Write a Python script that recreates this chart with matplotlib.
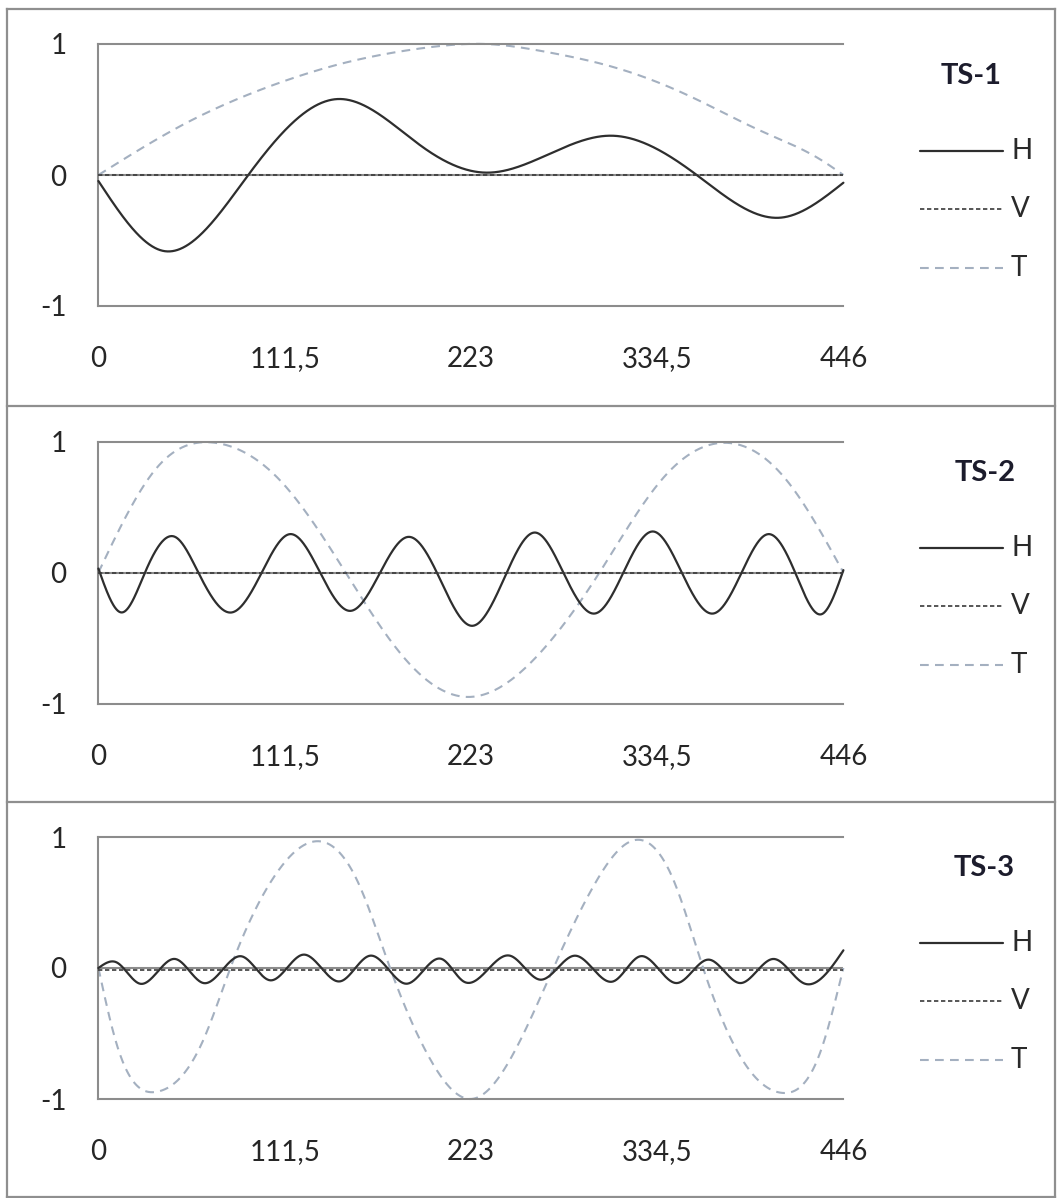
import numpy as np
import matplotlib
matplotlib.use("Agg")
import matplotlib.pyplot as plt

plt.rcParams['font.family'] = ['Lato', 'DejaVu Sans']

# ---- axis labels ----
x_ticks = [0, 111.5, 223, 334.5, 446]
x_tick_labels = ['0', '111,5', '223', '334,5', '446']
y_ticks = [-1, 0, 1]
y_tick_labels = ['-1', '0', '1']
series_names = ['H', 'V', 'T']
panel_titles = ['TS-1', 'TS-2', 'TS-3']

# ---- TS-1 ----
h1_x = [0, 39.0, 89.7, 143.6, 194.5, 232.4, 306.3, 358.2, 408.1, 446]
h1_y = [-0.046, -0.58, 0.0, 0.58, 0.21, 0.018, 0.30, 0.0, -0.326, -0.059]
v1_x = [0, 446]
v1_y = [0.0, 0.0]
t1_x = [0, 53, 99, 147, 195, 232, 268, 312, 356, 396, 432, 446]
t1_y = [0.0, 0.40, 0.66, 0.855, 0.97, 1.0, 0.94, 0.81, 0.59, 0.34, 0.12, 0.0]

# ---- TS-2 ----
h2_x = [0, 13.9, 27.9, 45.9, 59.8, 79.8, 97.8, 114.7, 132.7, 150.7, 168.7, 185.6,
        202.6, 223.5, 244.5, 261.4, 278.3, 297.3, 314.3, 332.2, 349.2, 368.2, 385.1,
        401.1, 417.1, 433.0, 446]
h2_y = [0.03, -0.305, 0.0, 0.272, 0.0, -0.305, 0.0, 0.293, 0.0, -0.293, 0.0, 0.272,
        0.0, -0.407, 0.0, 0.305, 0.0, -0.313, 0.0, 0.313, 0.0, -0.313, 0.0,
        0.293, 0.0, -0.318, 0.018]
v2_x = [0, 446]
v2_y = [0.0, 0.0]
t2_x = [0, 35.0, 70.0, 109.0, 148.0, 185.0, 222.0, 261.0, 300.0, 338.0, 376.0, 411.0, 446]
t2_y = [0.0, 0.80, 0.99, 0.70, 0.0, -0.68, -0.95, -0.66, 0.0, 0.72, 0.99, 0.72, 0.0]

# ---- TS-3 ----
h3_x = [0, 10.9, 24.9, 45.9, 62.9, 85.8, 102.8, 122.7, 144.7, 162.6, 184.6, 205.5,
        218.5, 246.4, 264.4, 285.3, 308.3, 324.2, 346.2, 365.2, 384.1, 404.1, 422.0, 446]
h3_y = [0.0, 0.043, -0.12, 0.069, -0.115, 0.089, -0.094, 0.102, -0.102, 0.094, -0.12, 0.069,
        -0.102, 0.094, -0.089, 0.094, -0.102, 0.089, -0.115, 0.064, -0.115, 0.069, -0.115, 0.135]
v3_x = [0, 446]
v3_y = [-0.012, -0.012]
t3_x = [0, 10.9, 34.9, 62.9, 79.0, 106.7, 128.7, 154.7, 174.6, 196.6, 223.0, 246.4,
        272.4, 296.3, 318.3, 344.2, 362.0, 388.1, 410.1, 432.0, 446]
t3_y = [0.0, -0.58, -0.945, -0.547, 0.0, 0.725, 0.965, 0.674, 0.0, -0.649, -1.0, -0.70,
        0.0, 0.623, 0.965, 0.674, 0.0, -0.751, -0.954, -0.649, 0.0]

panels = [
    ((h1_x, h1_y), (v1_x, v1_y), (t1_x, t1_y)),
    ((h2_x, h2_y), (v2_x, v2_y), (t2_x, t2_y)),
    ((h3_x, h3_y), (v3_x, v3_y), (t3_x, t3_y)),
]


def smooth_line(x, y, num=1500):
    """Natural cubic spline through the points (smoothed line rendering)."""
    x = np.asarray(x, float)
    y = np.asarray(y, float)
    n = len(x)
    if n < 3:
        return x, y
    h = np.diff(x)
    A = np.zeros((n, n))
    b = np.zeros(n)
    A[0, 0] = 1.0
    A[-1, -1] = 1.0
    for i in range(1, n - 1):
        A[i, i - 1] = h[i - 1]
        A[i, i] = 2.0 * (h[i - 1] + h[i])
        A[i, i + 1] = h[i]
        b[i] = 6.0 * ((y[i + 1] - y[i]) / h[i] - (y[i] - y[i - 1]) / h[i - 1])
    M = np.linalg.solve(A, b)
    xs = np.linspace(x[0], x[-1], num)
    idx = np.clip(np.searchsorted(x, xs, side='right') - 1, 0, n - 2)
    x0, x1 = x[idx], x[idx + 1]
    hh = x1 - x0
    ys = (M[idx] * (x1 - xs) ** 3 / (6 * hh) + M[idx + 1] * (xs - x0) ** 3 / (6 * hh)
          + (y[idx] / hh - M[idx] * hh / 6) * (x1 - xs)
          + (y[idx + 1] / hh - M[idx + 1] * hh / 6) * (xs - x0))
    return xs, ys


W, H = 1057, 1198
fig = plt.figure(figsize=(W / 100, H / 100), dpi=100)
fig.patch.set_facecolor('white')

grid_col = '#8c8c8c'
h_col = '#2e2e2e'
v_col = '#3a3a3a'
t_col = '#a4b0c0'
h_style = dict(color=h_col, lw=1.6, solid_capstyle='round')
v_style = dict(color=v_col, lw=1.2, dashes=(2.6, 1.6))
t_style = dict(color=t_col, lw=1.5, dashes=(4.2, 3.0))

ax_left, ax_w = 98.4, 745.0
ax_tops = [44, 441.5, 837]
ax_h = 262.0

for (hs, vs, ts), top in zip(panels, ax_tops):
    ax = fig.add_axes([ax_left / W, 1 - (top + ax_h) / H, ax_w / W, ax_h / H])
    ax.set_xlim(0, 446)
    ax.set_ylim(-1, 1)
    for side in ['left', 'top', 'bottom']:
        ax.spines[side].set_color(grid_col)
        ax.spines[side].set_linewidth(1.5)
    ax.spines['right'].set_visible(False)
    ax.axhline(0, color=grid_col, lw=1.5, zorder=1)
    ax.set_xticks(x_ticks)
    ax.set_xticklabels(x_tick_labels)
    ax.set_yticks(y_ticks)
    ax.set_yticklabels(y_tick_labels)
    ax.tick_params(axis='x', length=0, pad=29, labelsize=20, labelcolor='#262626')
    ax.tick_params(axis='y', length=0, pad=23, labelsize=20, labelcolor='#262626')

    sx, sy = smooth_line(*hs)
    ax.plot(sx, sy, zorder=3, clip_on=False, **h_style)
    ax.plot(vs[0], vs[1], zorder=4, clip_on=False, **v_style)
    sx, sy = smooth_line(*ts)
    ax.plot(sx, sy, zorder=2, clip_on=False, **t_style)

# overlay in pixel coordinates: panel frames and legends
ov = fig.add_axes([0, 0, 1, 1], facecolor='none')
ov.set_xlim(0, W)
ov.set_ylim(H, 0)
ov.axis('off')

frame_kw = dict(color='#8f8f8f', lw=1.6)
ov.plot([7, 7], [9, H], **frame_kw)
ov.plot([1055, 1055], [9, H], **frame_kw)
for yy in [9, 406, 802, 1197]:
    ov.plot([7, 1055], [yy, yy], **frame_kw)

title_y = [76, 473, 868]
title_x = [971, 985, 984]
row_off = [75, 133, 192]
styles = [h_style, v_style, t_style]
for ty, tx, title in zip(title_y, title_x, panel_titles):
    ov.text(tx, ty, title, ha='center', va='center', fontsize=21,
            fontweight='bold', color='#1c1c2c')
    for off, name, st in zip(row_off, series_names, styles):
        ov.plot([920, 1003], [ty + off, ty + off], **st)
        ov.text(1011, ty + off, name, ha='left', va='center', fontsize=20,
                color='#2a2a2a')

fig.savefig('out.png', dpi=100, facecolor='white')
